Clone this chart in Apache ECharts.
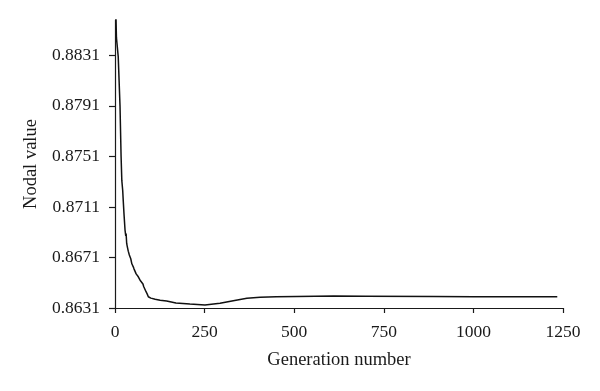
<!DOCTYPE html>
<html>
<head>
<meta charset="utf-8">
<script src="https://cdn.jsdelivr.net/npm/echarts@6/dist/echarts.min.js"></script>
<style>html,body{margin:0;padding:0;background:#fff;}#c{width:600px;height:391px;}</style>
</head>
<body>
<div id="c"></div>
<script>
var generations = [0, 2, 4, 9, 14, 17, 19, 21.5, 23, 25, 28, 30, 31, 32.6, 34, 37, 40, 42, 44, 47, 51, 53, 56, 59, 61, 65, 70, 74.5, 78, 80, 82, 84, 86.6, 90, 93, 100, 112, 126, 144, 170, 209, 251, 293, 330, 368, 405, 450, 507, 610, 700, 889, 1000, 1234];
var nodalValues = [0.8890, 0.8870, 0.8845, 0.8830, 0.8791, 0.8751, 0.8732, 0.8724, 0.8716, 0.87059, 0.86927, 0.8688, 0.8690, 0.86821, 0.8680, 0.8676, 0.8673, 0.86716, 0.8670, 0.8666, 0.86636, 0.8662, 0.8660, 0.8658, 0.8659, 0.86557, 0.8653, 0.86518, 0.8650, 0.8648, 0.86478, 0.8649, 0.86439, 0.8642, 0.86399, 0.86388, 0.86379, 0.86372, 0.86365, 0.8635, 0.86342, 0.86334, 0.86347, 0.86368, 0.86387, 0.86395, 0.86399, 0.86402, 0.86405, 0.86404, 0.86402, 0.86400, 0.86400];
var yTicks = [0.8631, 0.8671, 0.8711, 0.8751, 0.8791, 0.8831];
var xTicks = [0, 250, 500, 750, 1000, 1250];

var chart = echarts.init(document.getElementById('c'), null, {renderer: 'canvas'});
var font = 'Liberation Serif';
var data = generations.map(function (g, i) { return [g, nodalValues[i]]; });
chart.setOption({
  animation: false,
  backgroundColor: '#fff',
  grid: {left: 115, right: 37, top: 20, bottom: 83, containLabel: false},
  xAxis: {
    type: 'value', min: 0, max: 1250, interval: 250,
    name: 'Generation number', nameLocation: 'middle', nameGap: 43,
    nameTextStyle: {fontFamily: font, fontSize: 18.5, color: '#1a1a1a'},
    axisLine: {show: true, lineStyle: {color: '#1a1a1a', width: 1.2}},
    axisTick: {show: true, length: 5, lineStyle: {color: '#1a1a1a', width: 1.2}, customValues: xTicks},
    axisLabel: {fontFamily: font, fontSize: 17.5, color: '#1a1a1a', margin: 15, customValues: xTicks,
      formatter: function (v) { return String(v); }},
    splitLine: {show: false}
  },
  yAxis: {
    type: 'value', min: 0.8631, max: 0.8859,
    name: 'Nodal value', nameLocation: 'middle', nameGap: 74, nameRotate: 90,
    nameTextStyle: {fontFamily: font, fontSize: 18.5, color: '#1a1a1a'},
    axisLine: {show: true, lineStyle: {color: '#1a1a1a', width: 1.2}},
    axisTick: {show: true, length: 6, lineStyle: {color: '#1a1a1a', width: 1.2}, customValues: yTicks},
    axisLabel: {fontFamily: font, fontSize: 17.5, color: '#1a1a1a', margin: 15, customValues: yTicks,
      formatter: function (v) { return v.toFixed(4); }},
    splitLine: {show: false}
  },
  series: [{
    type: 'line', data: data, showSymbol: false, symbol: 'none', clip: true,
    lineStyle: {color: '#111', width: 1.5}
  }]
});
</script>
</body>
</html>
